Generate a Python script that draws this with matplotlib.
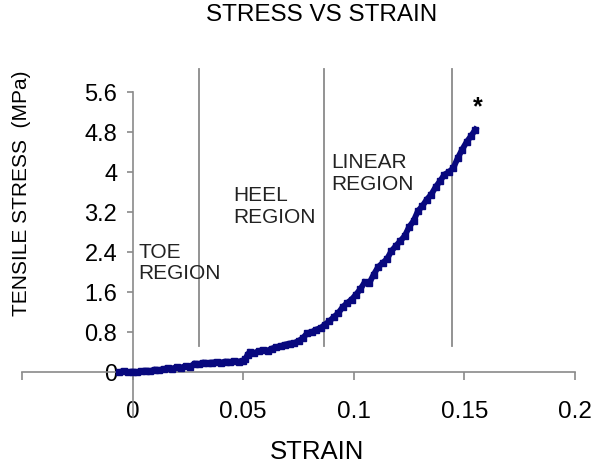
import numpy as np
import matplotlib
matplotlib.use("Agg")
import matplotlib.pyplot as plt

plt.rcParams['font.family'] = ['Liberation Sans', 'DejaVu Sans']

# stress-strain readings
strain = [-0.006, -0.004, -0.002, 0.000, 0.002, 0.004, 0.006, 0.008, 0.010, 0.012,
          0.014, 0.016, 0.018, 0.020, 0.022, 0.024, 0.026, 0.028, 0.030, 0.032,
          0.034, 0.036, 0.038, 0.040, 0.042, 0.044, 0.046, 0.048, 0.050, 0.051,
          0.052, 0.053, 0.055, 0.057, 0.059, 0.061, 0.063, 0.065, 0.067, 0.069,
          0.071, 0.073, 0.075, 0.077, 0.079, 0.081, 0.083, 0.085, 0.087, 0.089,
          0.091, 0.093, 0.095, 0.097, 0.099, 0.101, 0.103, 0.105, 0.107, 0.109,
          0.111, 0.113, 0.115, 0.117, 0.119, 0.121, 0.123, 0.125, 0.127, 0.129,
          0.131, 0.133, 0.135, 0.137, 0.139, 0.141, 0.143, 0.145, 0.147, 0.149,
          0.151, 0.153, 0.155]
stress = [0.00, 0.02, 0.00, 0.01, 0.00, 0.02, 0.03, 0.02, 0.05, 0.04,
          0.06, 0.08, 0.07, 0.10, 0.09, 0.12, 0.11, 0.17, 0.16, 0.19,
          0.18, 0.19, 0.20, 0.19, 0.21, 0.20, 0.22, 0.21, 0.23, 0.26,
          0.35, 0.40, 0.38, 0.42, 0.44, 0.43, 0.47, 0.50, 0.52, 0.55,
          0.57, 0.58, 0.62, 0.68, 0.78, 0.80, 0.85, 0.88, 0.95, 1.02,
          1.10, 1.18, 1.30, 1.38, 1.45, 1.55, 1.66, 1.80, 1.78, 1.95,
          2.10, 2.18, 2.26, 2.42, 2.52, 2.62, 2.72, 2.90, 3.02, 3.22,
          3.32, 3.45, 3.55, 3.70, 3.82, 3.95, 4.00, 4.08, 4.28, 4.45,
          4.60, 4.72, 4.85]

# region boundaries and labels
boundaries = [0.030, 0.0866, 0.1445]
region_labels = ["TOE\nREGION", "HEEL\nREGION", "LINEAR\nREGION"]
region_pos = [(0.0025, 2.6), (0.0455, 3.73), (0.090, 4.39)]

xticks = [-0.05, 0, 0.05, 0.1, 0.15, 0.2]
xticklabels = ["", "0", "0.05", "0.1", "0.15", "0.2"]
yticks = [0, 0.8, 1.6, 2.4, 3.2, 4, 4.8, 5.6]
yticklabels = ["0", "0.8", "1.6", "2.4", "3.2", "4", "4.8", "5.6"]

fig = plt.figure(figsize=(6, 4.77), dpi=100)
ax = fig.add_axes([22/600, 1-418/477, 553/600, 325/477])

ax.plot(strain, stress, color='#08087e', lw=4.2, marker='s', ms=4,
        solid_joinstyle='miter', zorder=3)

for b in boundaries:
    ax.plot([b, b], [0.52, 6.06], color='#8a8a8a', lw=1.3, clip_on=False, zorder=2)

for (tx, ty), lab in zip(region_pos, region_labels):
    ax.text(tx, ty, lab, fontsize=15, va='top', ha='left', color='#222222',
            linespacing=1.15)

ax.text(0.1561, 5.32, "*", fontsize=18, fontweight='bold', ha='center',
        va='center', color='black')

ax.set_xlim(-0.05, 0.2)
ax.set_ylim(-0.9, 5.6)
ax.spines['left'].set_position(('data', 0))
ax.spines['bottom'].set_position(('data', 0))
ax.spines['right'].set_visible(False)
ax.spines['top'].set_visible(False)
for s in ['left', 'bottom']:
    ax.spines[s].set_color('#8a8a8a')
    ax.spines[s].set_linewidth(1.2)

ax.set_xticks(xticks)
ax.set_xticklabels(xticklabels)
ax.set_yticks(yticks)
ax.set_yticklabels(yticklabels)
ax.tick_params(axis='x', direction='out', length=5.5, width=1.2, color='#8a8a8a',
               labelsize=17.5, pad=15)
ax.tick_params(axis='y', direction='out', length=4, width=1.2, color='#8a8a8a',
               labelsize=17, pad=7)

fig.text(322/600, 1-15/477, "STRESS VS STRAIN", fontsize=17.5, ha='center', va='center')
fig.text(317/600, 1-452/477, "STRAIN", fontsize=18.5, ha='center', va='center')
fig.text(22/600, 1-193/477, "TENSILE STRESS  (MPa)", fontsize=15, rotation=90,
         ha='center', va='center')

fig.savefig("out.png", dpi=100)
